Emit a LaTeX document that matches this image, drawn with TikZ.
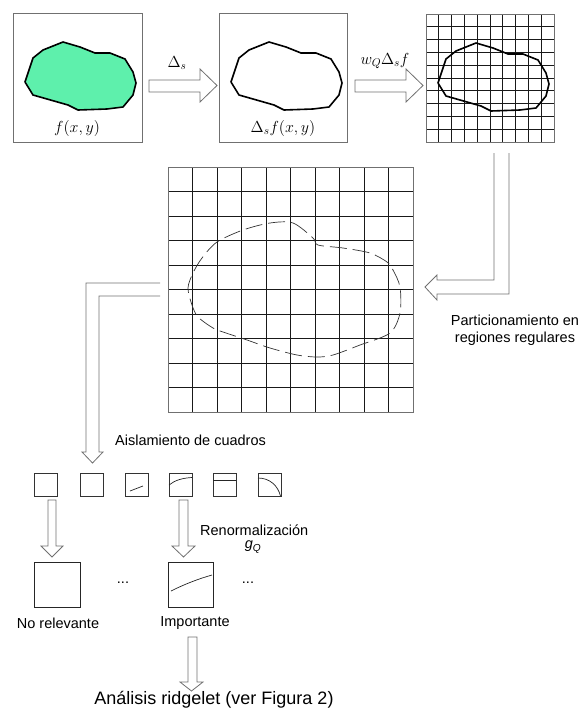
\documentclass[tikz,border=0pt]{standalone}
\usepackage{fix-cm}
\usepackage{fontspec}
\setmainfont{Liberation Sans}
\definecolor{mint}{RGB}{94,240,172}
\definecolor{edgegray}{RGB}{112,112,112}
\begin{document}
\begin{tikzpicture}[x=1pt,y=-1pt,
  frame/.style={draw=edgegray, line width=0.9pt, inner sep=0pt, outer sep=0pt},
  blockarrow/.style={draw=edgegray, line width=0.8pt, fill=white, line join=miter},
  gridline/.style={draw=black!90, line width=0.7pt},
  blobline/.style={draw=black, line width=1.6pt, line join=round},
  lbl/.style={font=\fontsize{14.5}{16.5}\selectfont, inner sep=0pt},
  mathlbl/.style={font=\fontsize{16}{19}\selectfont, inner sep=0pt},
  thinline/.style={draw=black!85, line width=0.7pt},
  blob/.pic={\path[pic actions] (12,69) -- (20,45) -- (30,37) -- (50,29) -- (67,34) -- (82,40) -- (97,40) -- (112,46) -- (120,59) -- (123,70) -- (120,82) -- (110,94) -- (94,96) -- (65,97) -- (55,92) -- (20,82) -- cycle;}
]
\useasboundingbox (0,0) rectangle (584,713);

% ---------- top row ----------
\pic[blobline, fill=mint] at (13,13) {blob};
\node[frame, minimum width=129pt, minimum height=129pt, anchor=north west] (b1) at (13,13) {};
\node[mathlbl] (t1) at (77,128) {$f(x,y)$};

\pic[blobline] at (219,13) {blob};
\node[frame, minimum width=128pt, minimum height=129pt, anchor=north west] (b2) at (219,13) {};
\node[mathlbl] (t2) at (283,128) {$\Delta_s f(x,y)$};

\foreach \i in {0,...,10} {
  \draw[gridline] ({426+12.8*\i},14) -- ({426+12.8*\i},142);
  \draw[gridline] (426,{14+12.8*\i}) -- (554,{14+12.8*\i});
}
\pic[blobline] at (426,14) {blob};
\node[frame, minimum width=128pt, minimum height=128pt, anchor=north west] (b3) at (426,14) {};

% horizontal block arrows
\draw[blockarrow] (149,80) -- (200,80) -- (200,69) -- (217,85.5) -- (200,102) -- (200,92) -- (149,92) -- cycle;
\node[mathlbl] (d1) at (177,63) {$\Delta_s$};
\draw[blockarrow] (355,80) -- (406,80) -- (406,69) -- (423,85.5) -- (406,102) -- (406,92) -- (355,92) -- cycle;
\node[mathlbl] (d2) at (385,61) {$w_Q\Delta_s f$};

% ---------- middle grid ----------
\foreach \i in {0,...,10} {
  \draw[gridline] ({168+24.5*\i},167) -- ({168+24.5*\i},412);
  \draw[gridline] (168,{167+24.5*\i}) -- (413,{167+24.5*\i});
}
\node[frame, minimum width=245pt, minimum height=245pt, anchor=north west] (mg) at (168,167) {};
\draw[draw=black!80, line width=0.7pt, dash pattern=on 17pt off 6pt]
  plot[smooth cycle, tension=0.5] coordinates {(270,223) (293,223) (313,238) (318,245) (343,248) (370,253) (387,262) (393,270) (400,287) (400,313) (390,333) (360,345) (333,355) (317,357) (297,355) (270,348) (247,340) (223,332) (213,328) (198,317) (192,305) (188,288) (193,273) (202,258) (217,242) (243,230)};

% right L-arrow (open at top)
\draw[blockarrow, fill=none] (494,153) -- (494,280) -- (437,280) -- (437,275) -- (425,287) -- (437,300) -- (437,294) -- (509,294) -- (509,153);
\node[lbl, align=center] (part) at (515,330) {Particionamiento en\\regiones regulares};

% left L-arrow (open at right)
\draw[blockarrow, fill=none] (160,283) -- (86,283) -- (86,452) -- (82,452) -- (92.5,463) -- (103,452) -- (99,452) -- (99,296) -- (160,296);
\node[lbl, anchor=west] (ais) at (115,440) {Aislamiento de cuadros};

% ---------- small squares ----------
\foreach \xx/\nm in {34/s1,80/s2,125/s3,169/s4,213/s5,258/s6} {
  \node[frame, draw=black!80, line width=0.8pt, minimum width=23pt, minimum height=23pt, anchor=north west] (\nm) at (\xx,473) {};
}
\draw[thinline] (130,491) -- (143,486);
\draw[thinline] (169,485) .. controls (175,480) and (183,478) .. (192,477.5);
\draw[thinline] (213,480) -- (236,480);
\draw[thinline] (258,478) .. controls (270,478) and (278,486) .. (280.5,496);

% down arrows
\draw[blockarrow] (48,500) -- (56,500) -- (56,546) -- (63,546) -- (52,557) -- (41,546) -- (48,546) -- cycle;
\draw[blockarrow] (179,500) -- (188,500) -- (188,546) -- (195,546) -- (183.5,557) -- (172,546) -- (179,546) -- cycle;
\node[lbl, anchor=west] (ren) at (200,530) {Renormalización};
\node[lbl] (gq) at (253,547) {\itshape g\textsubscript{Q}};

% big squares
\node[frame, draw=black!85, minimum width=46pt, minimum height=45pt, anchor=north west] (bs1) at (34,562) {};
\node[frame, draw=black!85, minimum width=45pt, minimum height=45pt, anchor=north west] (bs2) at (168,562) {};
\draw[thinline] (171,591) .. controls (185,584) and (198,579) .. (212,575);
\node[lbl] (dots1) at (123,583) {...};
\node[lbl] (dots2) at (248,583) {...};
\node[lbl] (nr) at (58,623) {No relevante};
\node[lbl] (imp) at (195,623) {Importante};

% final arrow
\draw[blockarrow] (188,637) -- (197,637) -- (197,682) -- (203,682) -- (191.5,691) -- (180,682) -- (188,682) -- cycle;
\node[font=\fontsize{18}{20}\selectfont, inner sep=0pt] (ana) at (214,700) {Análisis ridgelet (ver Figura 2)};
\end{tikzpicture}
\end{document}
